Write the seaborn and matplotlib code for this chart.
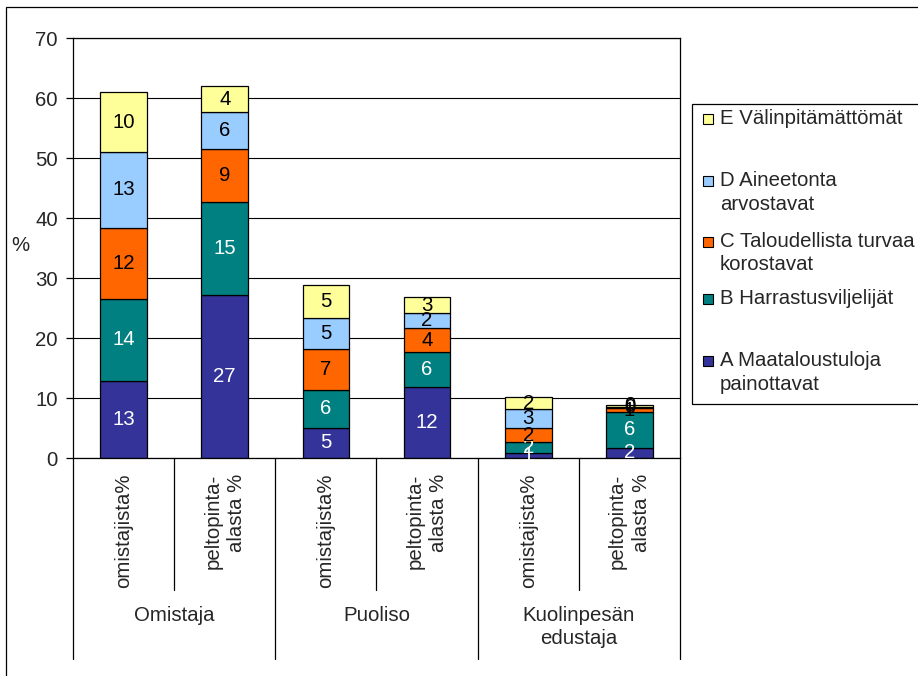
import matplotlib
matplotlib.use("Agg")
import matplotlib.pyplot as plt
from matplotlib.patches import Rectangle
from matplotlib.lines import Line2D
import pandas as pd
import seaborn as sns

# data
groups = ["Omistaja", "Puoliso", "Kuolinpesän\nedustaja"]
subcats = ["omistajista%", "peltopinta-\nalasta %"]
series = ["A Maataloustuloja\npainottavat", "B Harrastusviljelijät",
          "C Taloudellista turvaa\nkorostavat", "D Aineetonta\narvostavat",
          "E Välinpitämättömät"]
a_vals = [12.9, 27.2, 5.0, 11.8, 0.9, 1.7]
b_vals = [13.6, 15.4, 6.4, 5.8, 1.7, 6.0]
c_vals = [11.9, 8.9, 6.7, 4.1, 2.4, 0.6]
d_vals = [12.6, 6.1, 5.3, 2.4, 3.2, 0.2]
e_vals = [10.0, 4.4, 5.4, 2.7, 1.9, 0.4]
yticks = [0, 10, 20, 30, 40, 50, 60, 70]

colors = ["#333399", "#008080", "#FF6600", "#99CCFF", "#FFFF99"]
txt_colors = ["white", "white", "black", "black", "black"]

sns.set_style("white")
plt.rcParams["font.family"] = ["Liberation Sans", "DejaVu Sans"]
FS = 14.7
LS = 1.3

keys = [g + "|" + s for g in groups for s in subcats]
df = pd.DataFrame({"key": keys, "A": a_vals, "B": b_vals, "C": c_vals,
                   "D": d_vals, "E": e_vals})

W, H = 918, 676
fig = plt.figure(figsize=(W / 100, H / 100), dpi=100)
L, R, T, B = 73, 680, 38, 458
ax = fig.add_axes([L / W, 1 - B / H, (R - L) / W, (B - T) / H])

bottom = [0.0] * len(keys)
for col, c, tc in zip(["A", "B", "C", "D", "E"], colors, txt_colors):
    sns.barplot(data=df, x="key", y=col, color=c, saturation=1, width=0.46,
                edgecolor="black", linewidth=0.9, bottom=bottom,
                errorbar=None, ax=ax, order=keys)
    cont = ax.containers[-1]
    ax.bar_label(cont, labels=["%.0f" % v for v in df[col]],
                 label_type="center", color=tc, fontsize=FS)
    bottom = [b + v for b, v in zip(bottom, df[col])]

ax.set_xlim(-0.5, len(keys) - 0.5)
ax.set_ylim(0, 70)
ax.set_yticks(yticks)
ax.yaxis.grid(True, color="black", linewidth=0.8)
ax.set_axisbelow(True)
for sp in ax.spines.values():
    sp.set_color("black")
    sp.set_linewidth(0.9)
ax.tick_params(axis="y", length=5, width=0.9, direction="out", pad=6,
               labelsize=FS, left=True, color="black")
ax.tick_params(axis="x", length=0, labelbottom=False)
ax.set_xlabel("")
ax.set_ylabel("%", rotation=0, fontsize=FS, ha="center", va="center")
ax.yaxis.set_label_coords((20 - L) / (R - L), 0.507)

# multi-level category axis
trans = ax.get_xaxis_transform()
def fy(py):
    return -(py - B) / (B - T)

for i, k in enumerate(keys):
    ax.text(i, fy(474), k.split("|")[1], rotation=90, ha="center", va="top",
            multialignment="right", fontsize=FS, linespacing=LS,
            transform=trans)
for j, g in enumerate(groups):
    ax.text(2 * j + 0.5, fy(606), g, ha="center", va="top",
            multialignment="center", fontsize=FS, linespacing=LS,
            transform=trans)
for x in [0.5, 2.5, 4.5]:
    ax.add_line(Line2D([x, x], [0, fy(590)], color="black", lw=0.9,
                       transform=trans, clip_on=False))
for x in [-0.5, 1.5, 3.5, 5.5]:
    ax.add_line(Line2D([x, x], [0, fy(659)], color="black", lw=0.9,
                       transform=trans, clip_on=False))

# legend box drawn by hand, Excel style
def fx(px):
    return px / W
def fyy(py):
    return 1 - py / H

fig.add_artist(Rectangle((fx(692), fyy(404)), fx(260), 300 / H, fill=False,
                         edgecolor="black", lw=0.9,
                         transform=fig.transFigure))
leg_y = [361, 299, 242, 181, 119]
for lab, c, yy in zip(series, colors, leg_y):
    fig.add_artist(Rectangle((fx(703), fyy(yy + 5)), 10 / W, 10 / H,
                             facecolor=c, edgecolor="black", lw=0.8,
                             transform=fig.transFigure))
    fig.text(fx(720), fyy(yy - 10), lab, ha="left", va="top", fontsize=FS,
             linespacing=LS)

# outer chart frame
fig.add_artist(Rectangle((fx(6), fyy(700)), fx(950), 693 / H, fill=False,
                         edgecolor="black", lw=0.9,
                         transform=fig.transFigure))

fig.savefig("out.png", dpi=100)
